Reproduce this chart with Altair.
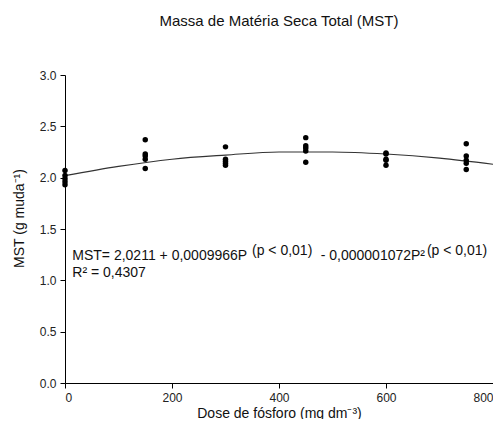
import altair as alt
import pandas as pd

# ---- data ----
doses = [0, 150, 300, 450, 600, 750]
mst_by_dose = [
    [2.07, 2.02, 1.99, 1.96, 1.93],
    [2.37, 2.23, 2.21, 2.18, 2.09],
    [2.30, 2.18, 2.16, 2.14, 2.12],
    [2.39, 2.31, 2.29, 2.26, 2.15],
    [2.24, 2.23, 2.18, 2.17, 2.12],
    [2.33, 2.21, 2.17, 2.14, 2.08],
]
curve_dose = [0, 100, 200, 300, 400, 500, 600, 700, 800]
curve_mst = [2.02, 2.11, 2.18, 2.22, 2.25, 2.25, 2.23, 2.19, 2.13]

eq_main_text = ["MST= 2,0211 + 0,0009966P", "- 0,000001072P\u00b2", "R\u00b2 = 0,4307"]
eq_main_x = [13.6, 478, 13.6]
eq_main_y = [1.198, 1.198, 1.035]
eq_sup_text = ["(p < 0,01)", "(p < 0,01)"]
eq_sup_x = [349.5, 676.5]
eq_sup_y = [1.25, 1.25]

pts = pd.DataFrame(
    [{"dose": d, "mst": v} for d, vals in zip(doses, mst_by_dose) for v in vals]
)
curve = pd.DataFrame({"dose": curve_dose, "mst": curve_mst})
main_txt = pd.DataFrame({"t": eq_main_text, "dose": eq_main_x, "mst": eq_main_y})
sup_txt = pd.DataFrame({"t": eq_sup_text, "dose": eq_sup_x, "mst": eq_sup_y})

FONT = "Liberation Sans"

xscale = alt.Scale(domain=[0, 800], nice=False, zero=False)
yscale = alt.Scale(domain=[0, 3], nice=False)

xaxis = alt.Axis(
    values=[0, 200, 400, 600, 800], format="d",
    title="Dose de fósforo (mg dm\u207b\u00b3)",
    titleY=34, titleBaseline="alphabetic",
)
yaxis = alt.Axis(
    values=[0, 0.5, 1.0, 1.5, 2.0, 2.5, 3.0], format=".1f",
    title="MST (g muda\u207b\u00b9)",
    titleX=-46, titleY=143, titleBaseline="middle", titleAngle=-90,
)

points = alt.Chart(pts).mark_circle(size=30, color="black", opacity=1).encode(
    x=alt.X("dose:Q", scale=xscale, axis=xaxis),
    y=alt.Y("mst:Q", scale=yscale, axis=yaxis),
)

line = alt.Chart(curve).mark_line(color="#333333", strokeWidth=1.1, interpolate="monotone").encode(
    x=alt.X("dose:Q", scale=xscale),
    y=alt.Y("mst:Q", scale=yscale),
)

main = alt.Chart(main_txt).mark_text(
    align="left", baseline="alphabetic", fontSize=14, font=FONT, color="#111111"
).encode(x=alt.X("dose:Q", scale=xscale), y=alt.Y("mst:Q", scale=yscale), text="t:N")

sup = alt.Chart(sup_txt).mark_text(
    align="left", baseline="alphabetic", fontSize=14, font=FONT, color="#111111"
).encode(x=alt.X("dose:Q", scale=xscale), y=alt.Y("mst:Q", scale=yscale), text="t:N")

chart = alt.layer(line, points, main, sup).properties(
    width=428,
    height=308,
    autosize=alt.AutoSizeParams(type="none"),
    padding={"left": 57, "top": 67, "right": 0, "bottom": 36},
    title=alt.TitleParams(
        "Massa de Matéria Seca Total (MST)", font=FONT, fontSize=15,
        fontWeight="normal", anchor="middle", offset=40, color="#111111",
    ),
).configure_view(stroke=None).configure_axis(
    grid=False, domainColor="black", domainWidth=1, tickColor="black",
    tickSize=5, tickWidth=1, labelFont=FONT, labelFontSize=12, labelColor="#222222",
    titleFont=FONT, titleFontSize=14, titleFontWeight="normal", titleColor="#111111",
    labelPadding=4,
)

chart.save("out.html", embed_options={"renderer": "svg", "actions": False})
